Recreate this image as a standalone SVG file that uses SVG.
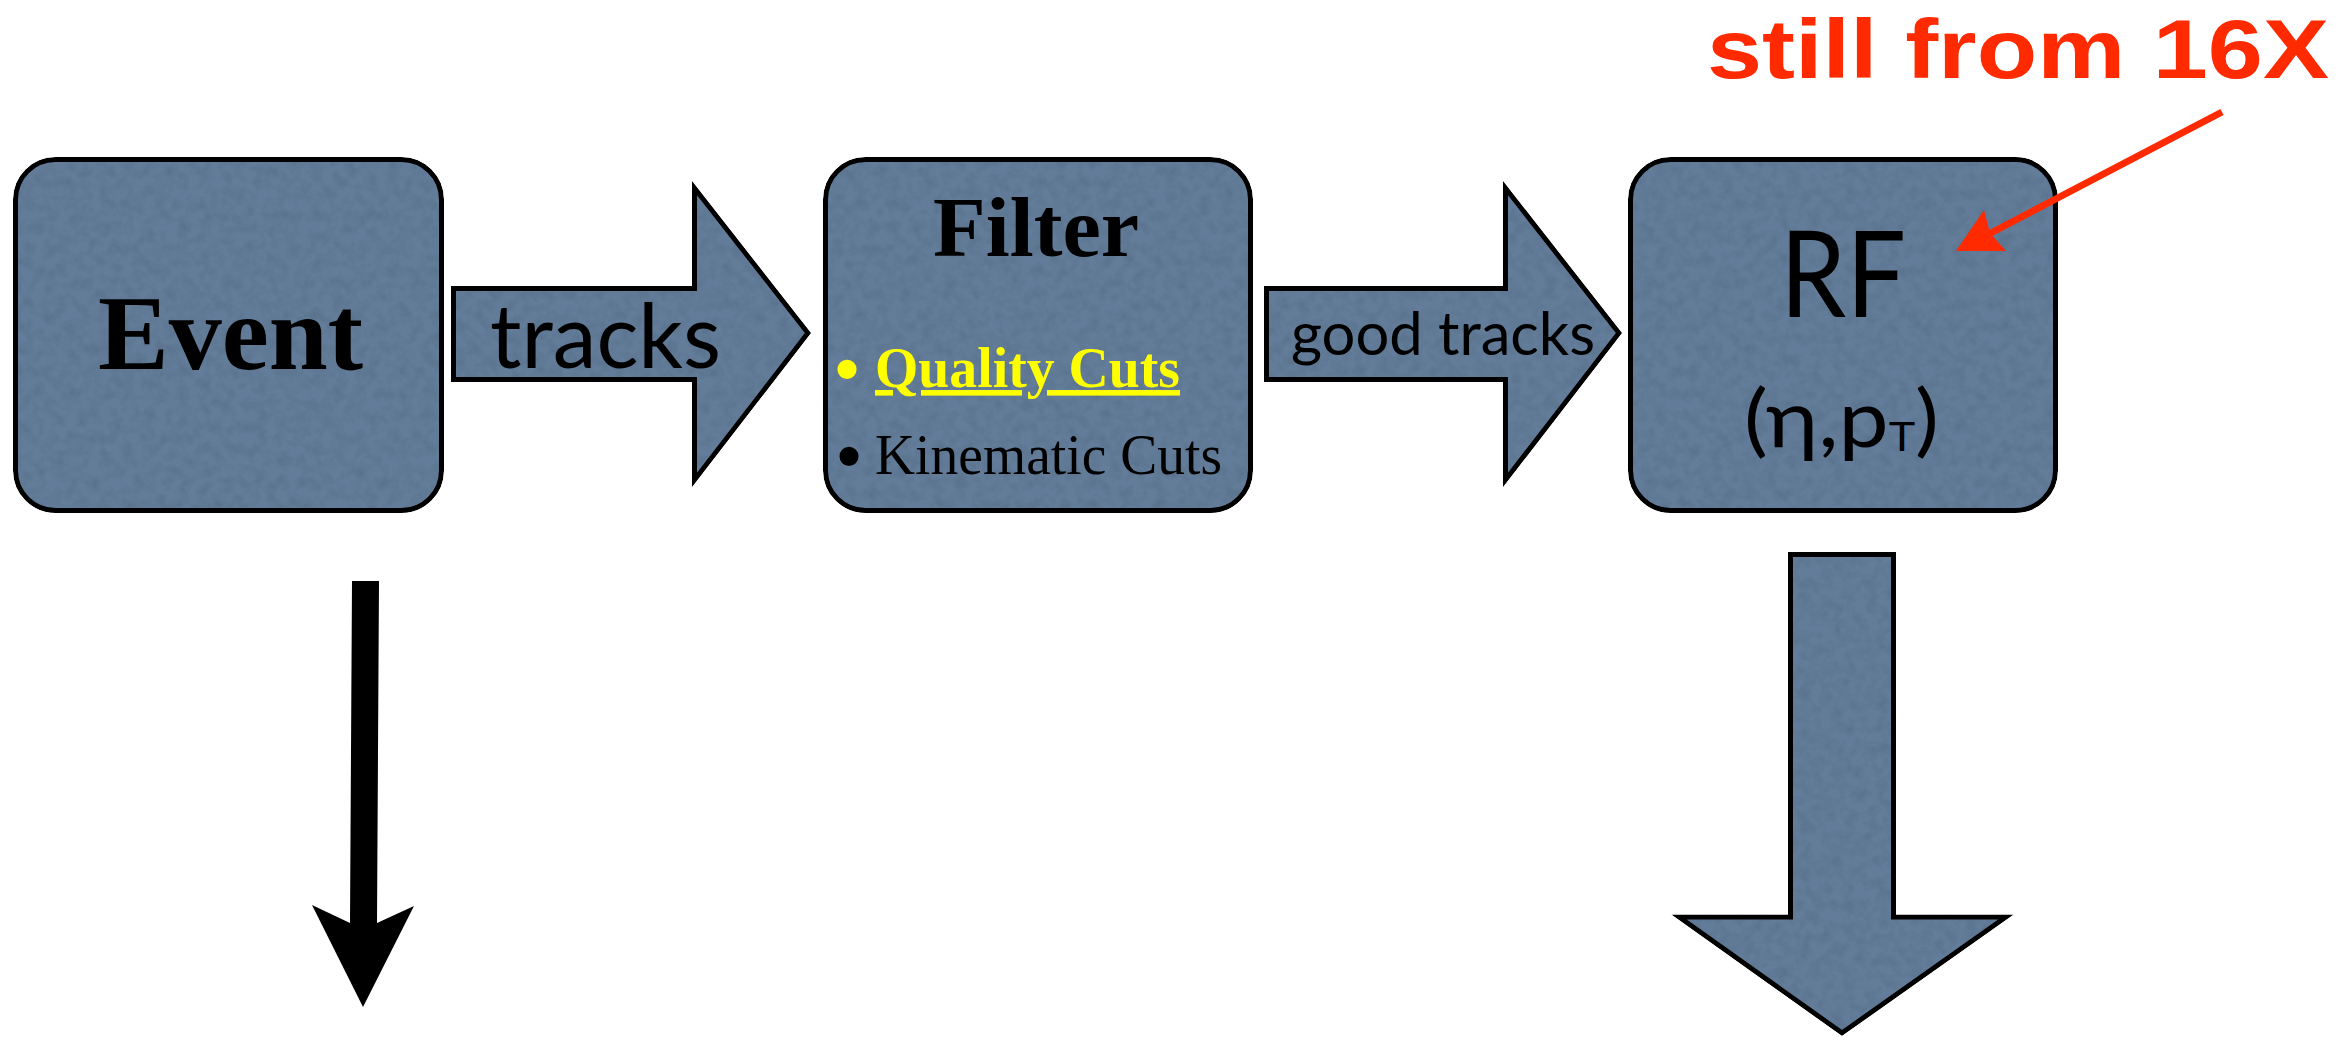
<svg xmlns="http://www.w3.org/2000/svg" width="2345" height="1037" viewBox="0 0 2345 1037">
  <defs>
    <!-- soft mottled paper grain multiplied into the slate-blue fill -->
    <filter id="paper" x="-5%" y="-5%" width="110%" height="110%" color-interpolation-filters="sRGB">
      <feTurbulence type="fractalNoise" baseFrequency="0.09" numOctaves="3" seed="7" result="noise"/>
      <feColorMatrix in="noise" type="matrix" values="0.16 0 0 0 0.9  0.16 0 0 0 0.9  0.16 0 0 0 0.9  0 0 0 0 1" result="grain"/>
      <feBlend in="SourceGraphic" in2="grain" mode="multiply" result="mixed"/>
      <feComposite in="mixed" in2="SourceAlpha" operator="in"/>
    </filter>
    <style>
      .shape { fill: #627c99; stroke: #000; stroke-width: 5; stroke-linejoin: miter; filter: url(#paper); }
      .serif { font-family: "Liberation Serif", "Times New Roman", serif; }
      .sans { font-family: Lato, "Noto Sans", "Open Sans", sans-serif; }
      .label { fill: #000; }
    </style>
  </defs>

  <rect width="2345" height="1037" fill="#fff"/>

  <!-- connectors -->
  <g id="connectors">
    <g id="edge-tracks">
      <polygon class="shape" points="453.5,288.5 694.5,288.5 694.5,188 808,333 694.5,480 694.5,379.5 453.5,379.5"/>
      <text class="sans label" x="490" y="368" font-size="90" textLength="231" lengthAdjust="spacingAndGlyphs">tracks</text>
    </g>
    <g id="edge-good-tracks">
      <polygon class="shape" points="1266.5,288.5 1505.5,288.5 1505.5,188 1619,333 1505.5,480 1505.5,379.5 1266.5,379.5"/>
      <text class="sans label" x="1291" y="355" font-size="60" textLength="304" lengthAdjust="spacingAndGlyphs">good tracks</text>
    </g>
    <g id="edge-event-down">
      <polygon fill="#000" points="352,581 379,581 377,923 414,906 363,1007 312,905 350,923"/>
    </g>
    <g id="edge-rf-down">
      <polygon class="shape" points="1790.5,554.5 1893.5,554.5 1893.5,917 2006,917 1842,1033 1679,917 1790.5,917"/>
    </g>
  </g>

  <!-- nodes -->
  <g id="node-event">
    <rect class="shape" x="15.5" y="159.5" width="426" height="351" rx="40" ry="40"/>
    <text class="serif label" x="98" y="369" font-size="106" font-weight="bold" textLength="265" lengthAdjust="spacingAndGlyphs">Event</text>
  </g>

  <g id="node-filter">
    <rect class="shape" x="825.5" y="159.5" width="425" height="351" rx="40" ry="40"/>
    <text class="serif label" x="933" y="256" font-size="85" font-weight="bold" textLength="206" lengthAdjust="spacingAndGlyphs">Filter</text>
    <text class="serif" x="833" y="396" font-size="80" fill="#ffff00">•</text>
    <text class="serif" x="875" y="387" font-size="56" font-weight="bold" fill="#ffff00" text-decoration="underline" textLength="305" lengthAdjust="spacingAndGlyphs">Quality Cuts</text>
    <text class="serif label" x="835" y="483" font-size="80">•</text>
    <text class="serif label" x="875" y="474" font-size="56" textLength="347" lengthAdjust="spacingAndGlyphs">Kinematic Cuts</text>
  </g>

  <g id="node-rf">
    <rect class="shape" x="1630.5" y="159.5" width="425" height="351" rx="40" ry="40"/>
    <text class="sans label" x="1780" y="317" font-size="120" textLength="126" lengthAdjust="spacingAndGlyphs">RF</text>
    <text class="sans label" x="1744" y="447" font-size="80" textLength="195" lengthAdjust="spacingAndGlyphs">(η,p<tspan font-size="40" dy="4">T</tspan><tspan dy="-4">)</tspan></text>
  </g>

  <!-- annotation -->
  <g id="note-16x">
    <text x="1707" y="78" font-family="'Liberation Sans', Arial, sans-serif" font-size="84" font-weight="bold" fill="#ff2a00" textLength="622" lengthAdjust="spacingAndGlyphs">still from 16X</text>
    <line x1="2222" y1="112" x2="1985" y2="236" stroke="#ff2a00" stroke-width="7"/>
    <polygon fill="#ff2a00" points="1956,251 1984,210 1990,233 2006,251"/>
  </g>
</svg>
